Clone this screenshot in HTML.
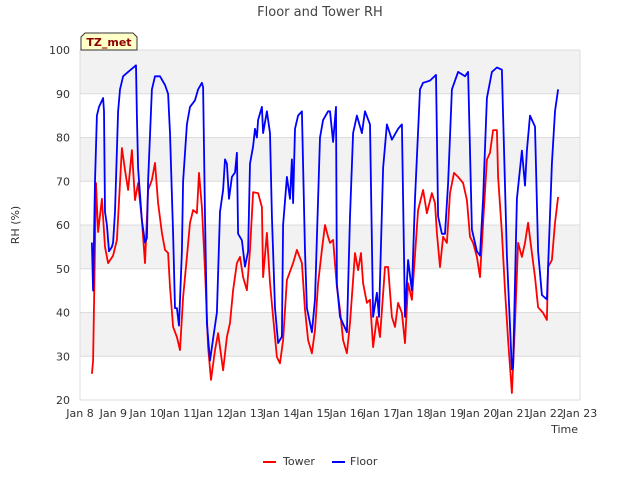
<!DOCTYPE html>
<html><head><meta charset="utf-8"><style>
body{margin:0;background:#fff;}
svg text{font-family:"DejaVu Sans","Liberation Sans",sans-serif;}
</style></head><body>
<svg id="chart" width="640" height="480" xmlns="http://www.w3.org/2000/svg">
<text x="320" y="16" text-anchor="middle" font-size="13" fill="#444">Floor and Tower RH</text>
<g id="bands"></g>
<g id="yticks"></g>
<g id="xticks"></g>
<text transform="translate(19,225) rotate(-90)" text-anchor="middle" font-size="11" fill="#333">RH (%)</text>
<text x="578" y="433" text-anchor="end" font-size="11" fill="#333">Time</text>
<g id="series"></g>
<g>
<path d="M81,50 L81,37 L85,33 L133,33 L137,37 L137,50 Z" fill="#ffffc8" stroke="#333" stroke-width="1"/>
<text x="109" y="46" text-anchor="middle" font-size="11" font-weight="bold" fill="#8b0000">TZ_met</text>
</g>
<g>
<g><line x1="263" y1="462" x2="276" y2="462" stroke="#ff0000" stroke-width="2"/><text x="283" y="465" font-size="11" fill="#333">Tower</text></g>
<g><line x1="332" y1="462" x2="345" y2="462" stroke="#0000ff" stroke-width="2"/><text x="350" y="465" font-size="11" fill="#333">Floor</text></g>
</g>
</svg>
<script>
const xTickLabels=["Jan 8","Jan 9","Jan 10","Jan 11","Jan 12","Jan 13","Jan 14","Jan 15","Jan 16","Jan 17","Jan 18","Jan 19","Jan 20","Jan 21","Jan 22","Jan 23"];
const yTicks=[20,30,40,50,60,70,80,90,100];
// hours since Jan 8 00:00
const floorHours=[8.6,9.4,10.8,12.2,13.7,16.6,17.3,18,19.4,20.9,23,23.8,25.2,27.4,28.8,31,34.6,40.3,41,41.8,44.6,46.8,48.2,49,51.8,54,57.6,61.2,63.4,64.8,67,68.4,69.8,71.3,73.4,74.2,77,79.2,82.8,85,87.8,88.6,90,91.4,93.6,95.8,98.6,100.8,103,104.4,105.8,107.3,109.4,111.6,113,113.8,116.6,118.8,121,122.4,124.6,126,127.4,128.2,131,131.8,134.6,136.8,138.2,140.4,142.6,145.4,146.2,149,151.2,152.6,153.4,154.8,157,159.8,162,163.4,167,169.2,171.4,172.8,175,178.6,180,182.2,184.3,185,187.2,192.2,194.4,196.6,199.4,203,205.2,208.8,211,213.8,215.3,218.2,221,224.6,229,231.8,234,236.2,239,241.2,244.8,247,252,256.3,257.8,260.6,262.8,265,267.8,272.2,277.2,279.4,282.2,285.8,288,290.2,293,296.6,300.2,303.8,304.6,307.4,311,311.8,314.6,318.2,320.4,321.8,324,327.6,329.8,332.6,336.2,339.8,342,344.2];
const floorRH=[56,45,70,85,87,89,86,63,60,54,55,56,63,86,91,94,95,96.5,85,73,61,56,57,70,91,94,94,92,90,81,58,41,41,37,54,70,83,87,88.5,91,92.5,91.5,62,37.5,29,34,40,63,68,75,74,66,71,72,76.5,58,56.5,50.5,54,74,78,82,80,84,87,81,86,81,62,41,33,34.5,60,71,66,75,65,82,85,86,54,41,35.5,43,66,80,84,86,86,79,87,46.5,39,35.5,62,81,85,81,86,83,39,44.5,39,73,83,79.5,82,83,39,52,45,66,91,92.5,93,94.3,62,58,58,69.5,91,95,94,95,59,54,53,66,89,95,96,95.5,85,53,27,27.5,66,77,69,77,85,82.5,54,44,43,74,86,91];
const towerHours=[8.6,9.4,11.5,13,15.8,18,20.2,23.8,26.6,30.2,32.4,34.6,37.4,39.6,41.8,44.6,46.8,49,51.8,54,56.2,59,61.2,63.4,64.8,67,69.8,72,74.2,77,79.2,81.4,84.2,85.7,87.8,90,92.2,94.3,97.2,99.4,103,105.8,108,110.2,113,115.2,117.4,120.2,122.4,124.6,128.2,131,131.8,134.6,136.8,139,141.8,144,146.2,149,153.4,156.2,159.8,162,164.2,167,169.2,171.4,174.2,176.4,178.6,180,182.2,185,187.2,189.4,192.2,194.4,198,200.2,202.3,203.8,206.6,208.8,211,213.8,216,219.6,221.8,224.6,226.8,229,231.8,234,236.2,239,243.4,247,249.8,253.4,255.6,257,259.2,261.4,264.2,266.4,269.3,272.2,275.8,278.6,280.8,283,285.8,288,290.2,293,295.2,297.4,300.2,301,303.8,306,308.2,311,313.2,315.4,318.2,320.4,322.6,325.4,327.6,329.8,333.4,336.2,337,339.8,342,344.2];
const towerRH=[26,29,69.6,58.4,66,55,51.3,53,56.6,77.6,72.6,68,77.1,65.7,69.6,61.1,51.3,68,70.3,74.2,65,58.2,54.3,53.6,45.8,36.7,34.4,31.4,43.5,52.7,60.5,63.4,62.7,71.9,64.1,49.7,32.1,24.6,31.4,35.3,26.8,34.4,37.6,45.1,51.3,52.7,48.1,45.1,54.3,67.5,67.3,64.1,48.1,58.2,46.7,39,29.8,28.4,33.7,47.4,51.3,54.3,51.3,40.6,33.7,30.7,36,46.7,54.3,60,57.3,55.9,56.6,45.8,40.6,33.7,30.7,37.6,53.6,49.7,53.6,46.7,42.2,42.9,32.1,39,34.4,50.4,50.4,39,36.7,42.2,39.9,33,46.7,42.9,63.4,68,62.7,67.3,65,58.2,50.4,57.3,55.9,67.3,71.9,71,69.6,65.7,57.3,55.9,52.7,48.1,60.5,74.9,76.5,81.7,81.7,71,58.2,45.1,33.7,21.6,37.6,55.9,52.7,55.9,60.5,53.6,48.1,41.2,39.9,38.3,50.4,52,60.5,66.4];

const NS="http://www.w3.org/2000/svg";
const L=80,R=580,T=50,B=400;
function xScale(h){return L+(h/24)*(R-L)/15;}
function yScale(v){return B-(v-20)/80*(B-T);}
function mk(tag,attrs,parent){const e=document.createElementNS(NS,tag);for(const k in attrs)e.setAttribute(k,attrs[k]);parent.appendChild(e);return e;}
const bands=document.getElementById('bands');
for(let i=0;i<yTicks.length-1;i++){
  const v0=yTicks[i],v1=yTicks[i+1];
  const r=mk('rect',{x:L,y:yScale(v1),width:R-L,height:yScale(v0)-yScale(v1),fill:(i%2===1)?'#f2f2f2':'#ffffff'},bands);
  
  
}
const yt=document.getElementById('yticks');
yTicks.forEach(v=>{
  const ln=mk('line',{x1:L,x2:R,y1:yScale(v),y2:yScale(v),stroke:'#dcdcdc','stroke-width':1},yt);
  
  
  const t=mk('text',{x:L-10,y:yScale(v)+4,'text-anchor':'end','font-size':11,fill:'#333'},yt);
  t.textContent=v;
  
  
});
mk('line',{x1:L,x2:L,y1:T,y2:B,stroke:'#dcdcdc'},yt);
mk('line',{x1:R,x2:R,y1:T,y2:B,stroke:'#dcdcdc'},yt);
const xt=document.getElementById('xticks');
xTickLabels.forEach((s,i)=>{
  const t=mk('text',{x:xScale(i*24),y:417,'text-anchor':'middle','font-size':11,fill:'#333'},xt);
  t.textContent=s;
  
  
});
const sg=document.getElementById('series');
function line(hs,vs,color,name){
  const d=hs.map((h,i)=>(i?'L':'M')+xScale(h).toFixed(1)+','+yScale(vs[i]).toFixed(1)).join(' ');
  const p=mk('path',{d:d,fill:'none',stroke:color,'stroke-width':1.8,'stroke-linejoin':'round'},sg);
  
  
}
line(towerHours,towerRH,'#ff0000','tower-line');
line(floorHours,floorRH,'#0000ff','floor-line');
</script>
</body></html>
